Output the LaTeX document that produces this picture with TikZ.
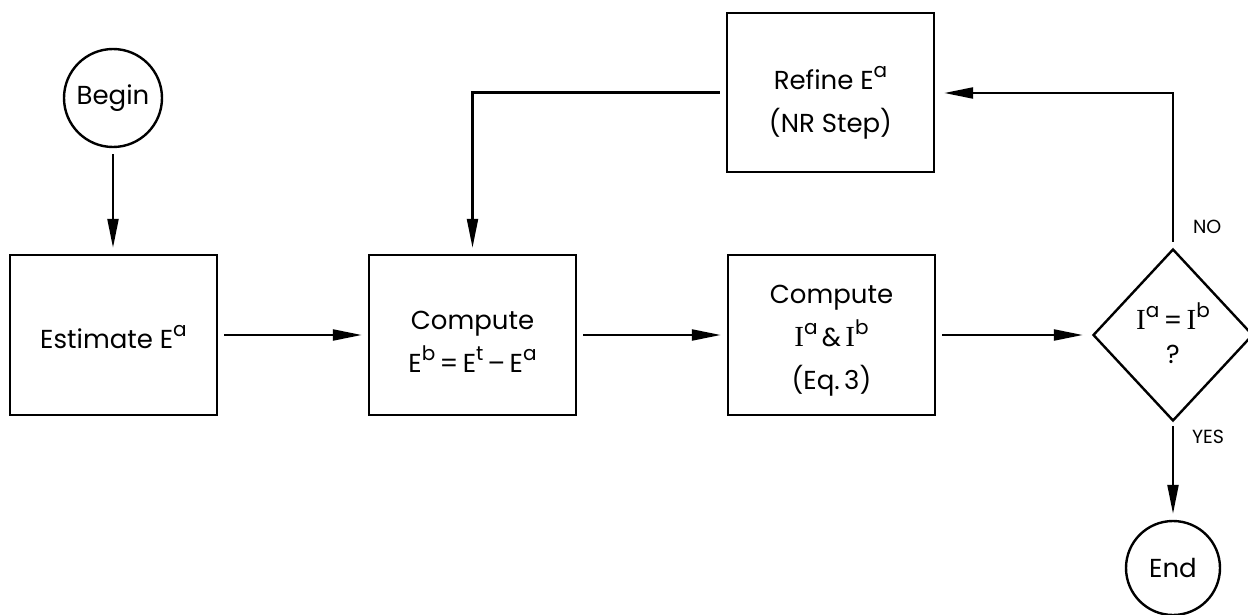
\documentclass[tikz,border=0pt]{standalone}
\usepackage{fontspec}
\setmainfont{Poppins}
\newfontfamily\serifI{Liberation Serif}[Scale=1.12]
\usetikzlibrary{arrows.meta,shapes.geometric}
% raised superscript letter, close to full size as in hand lettering
\newcommand\spr[1]{\raisebox{6pt}{\fontsize{10}{10}\selectfont #1}}
\newcommand\Ivar{{\serifI I}}
\begin{document}
\begin{tikzpicture}[x=0.5pt,y=-0.5pt,
  every node/.style={font=\fontsize{13}{21.5}\selectfont},
  box/.style={draw, line width=1.2pt, minimum width=103.5pt, minimum height=80pt,
              inner sep=0pt},
  txt/.style={align=center, inner sep=0pt},
  term/.style={draw, circle, line width=1.2pt, inner sep=0pt},
  decision/.style={draw, diamond, line width=1.2pt, minimum width=80pt,
              minimum height=86pt, inner sep=0pt},
  flow/.style={line width=1.1pt, -{Triangle[length=14.5pt,width=5.5pt]},
               shorten <=3pt, shorten >=3pt},
  lbl/.style={font=\fontsize{9.5}{11}\selectfont, anchor=west}]
\useasboundingbox (0,0) rectangle (1248,615);

% process steps
\node[term, minimum size=49pt] (begin) at (113,98) {Begin};
\node[box] (est) at (113.5,335) {};
\node[box] (cmpE) at (472.5,335) {};
\node[box] (cmpI) at (831.5,335) {};
\node[box, minimum height=79.5pt] (ref) at (830.5,92.5) {};
\node[decision] (dec) at (1173,335) {};
\node[term, minimum size=47pt] (end) at (1173,568) {End};

% texts of the steps
\node[txt] (estT) at ([yshift=-1pt]est.center) {Estimate E\spr{a}};
\node[txt] (cmpET) at ([yshift=-3.5pt]cmpE.center)
  {Compute\\E\spr{b}\,=\,E\spr{t}\,--\,E\spr{a}};
\node[txt] (cmpIT) at ([yshift=-3pt]cmpI.center)
  {Compute\\\Ivar\spr{a}\,\&\,\Ivar\spr{b}\\(Eq.\,3)};
\node[txt] (refT) at ([yshift=-5pt]ref.center) {Refine E\spr{a}\\(NR Step)};
\node[txt] (decT) at ([yshift=1pt]dec.center) {\Ivar\spr{a}\,=\,\Ivar\spr{b}\\[-4.5pt]?};

% branch labels
\node[lbl] (no) at (1186,227) {NO};
\node[lbl] (yes) at (1185,437) {YES};

% loop corner
\coordinate (turn) at (1173,93);

% connectors
\draw[flow] (begin.south) -- (begin.south |- est.north);
\draw[flow] (est) -- (cmpE);
\draw[flow] (cmpE) -- (cmpI);
\draw[flow, shorten >=4.5pt] (cmpI) -- (dec);
\draw[flow, shorten >=4.5pt] (dec.north) -- (turn) -- (turn -| ref.east);
\draw[flow] (ref.west) -| (cmpE.north);
\draw[flow, shorten <=2pt] (dec.south) -- (end.north);
\end{tikzpicture}
\end{document}
